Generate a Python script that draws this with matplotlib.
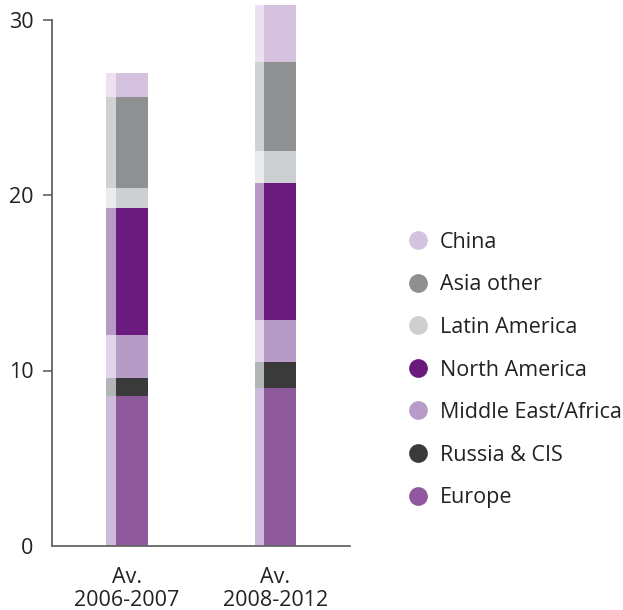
import matplotlib
matplotlib.use("Agg")
import matplotlib.pyplot as plt
from matplotlib.lines import Line2D
import numpy as np

plt.rcParams['font.family'] = ['Open Sans', 'DejaVu Sans']

periods = ["Av.\n2006-2007", "Av.\n2008-2012"]
regions = ["Europe", "Russia & CIS", "Middle East/Africa", "North America",
           "Latin America", "Asia other", "China"]
europe = [8.56, 9.0]
russia_cis = [1.02, 1.48]
middle_east_africa = [2.46, 2.39]
north_america = [7.24, 7.82]
latin_america = [1.14, 1.82]
asia_other = [5.14, 5.08]
china = [1.42, 3.25]
series = [europe, russia_cis, middle_east_africa, north_america,
          latin_america, asia_other, china]

main_colors = ["#8e5a9c", "#3a3a3a", "#b79bc7", "#6b1a7e",
               "#cdd0d3", "#8e9092", "#d4c2df"]
side_colors = ["#cdb9d9", "#b2b5b5", "#e2d5ea", "#b89ac6",
               "#ebebeb", "#cfd2d5", "#ece1f1"]
legend_colors = ["#91589f", "#3a3a3a", "#b79bc8", "#6a1a7c",
                 "#cfcfcf", "#8f8f8f", "#d4c3df"]

FS = 15.5

fig = plt.figure(figsize=(6.23, 6.10), dpi=100)
W, H = 623, 610
ax = fig.add_axes([52 / W, 1 - 546 / H, (350 - 52) / W, 546 / H])

x = np.arange(len(periods))
side_w = 0.067
main_w = 0.215
total = side_w + main_w
left = x - total / 2

# Each stack segment: a narrow lighter strip on the left plus the main block
bottom = np.zeros(len(periods))
for vals, mc, sc in zip(series, main_colors, side_colors):
    vals = np.array(vals)
    ax.bar(left, vals, width=side_w, bottom=bottom, align='edge',
           color=sc, linewidth=0)
    ax.bar(left + side_w, vals, width=main_w, bottom=bottom, align='edge',
           color=mc, linewidth=0)
    bottom += vals

ax.set_xlim(-0.505, 1.502)
ax.set_ylim(0, 546 / 17.55)

for s in ["top", "right"]:
    ax.spines[s].set_visible(False)
ax.spines["left"].set_bounds(0, 30)
ax.spines["left"].set_color("#555555")
ax.spines["left"].set_linewidth(1.2)
ax.spines["bottom"].set_color("#666666")
ax.spines["bottom"].set_linewidth(1.3)

ax.set_yticks([0, 10, 20, 30])
ax.set_yticklabels(["0", "10", "20", "30"])
ax.tick_params(axis='y', direction='out', length=6.5, width=1.1,
               color="#555555", pad=7, labelsize=FS, labelcolor="#222222")
ax.yaxis.get_major_ticks()[0].tick1line.set_visible(False)

ax.set_xticks(x)
ax.set_xticklabels(periods, linespacing=1.15)
ax.tick_params(axis='x', length=0, pad=15, labelsize=FS,
               labelcolor="#222222")

handles = [Line2D([], [], marker='o', ls='', markersize=13.5,
                  markerfacecolor=c, markeredgecolor='none')
           for c in legend_colors[::-1]]
fig.legend(handles, regions[::-1], loc='center left',
           bbox_to_anchor=(405 / W, 1 - 370 / H), frameon=False,
           fontsize=FS, labelspacing=1.0, handletextpad=0.43,
           handlelength=1.2, borderpad=0, borderaxespad=0,
           labelcolor="#222222")

fig.savefig("out.png", dpi=100)
